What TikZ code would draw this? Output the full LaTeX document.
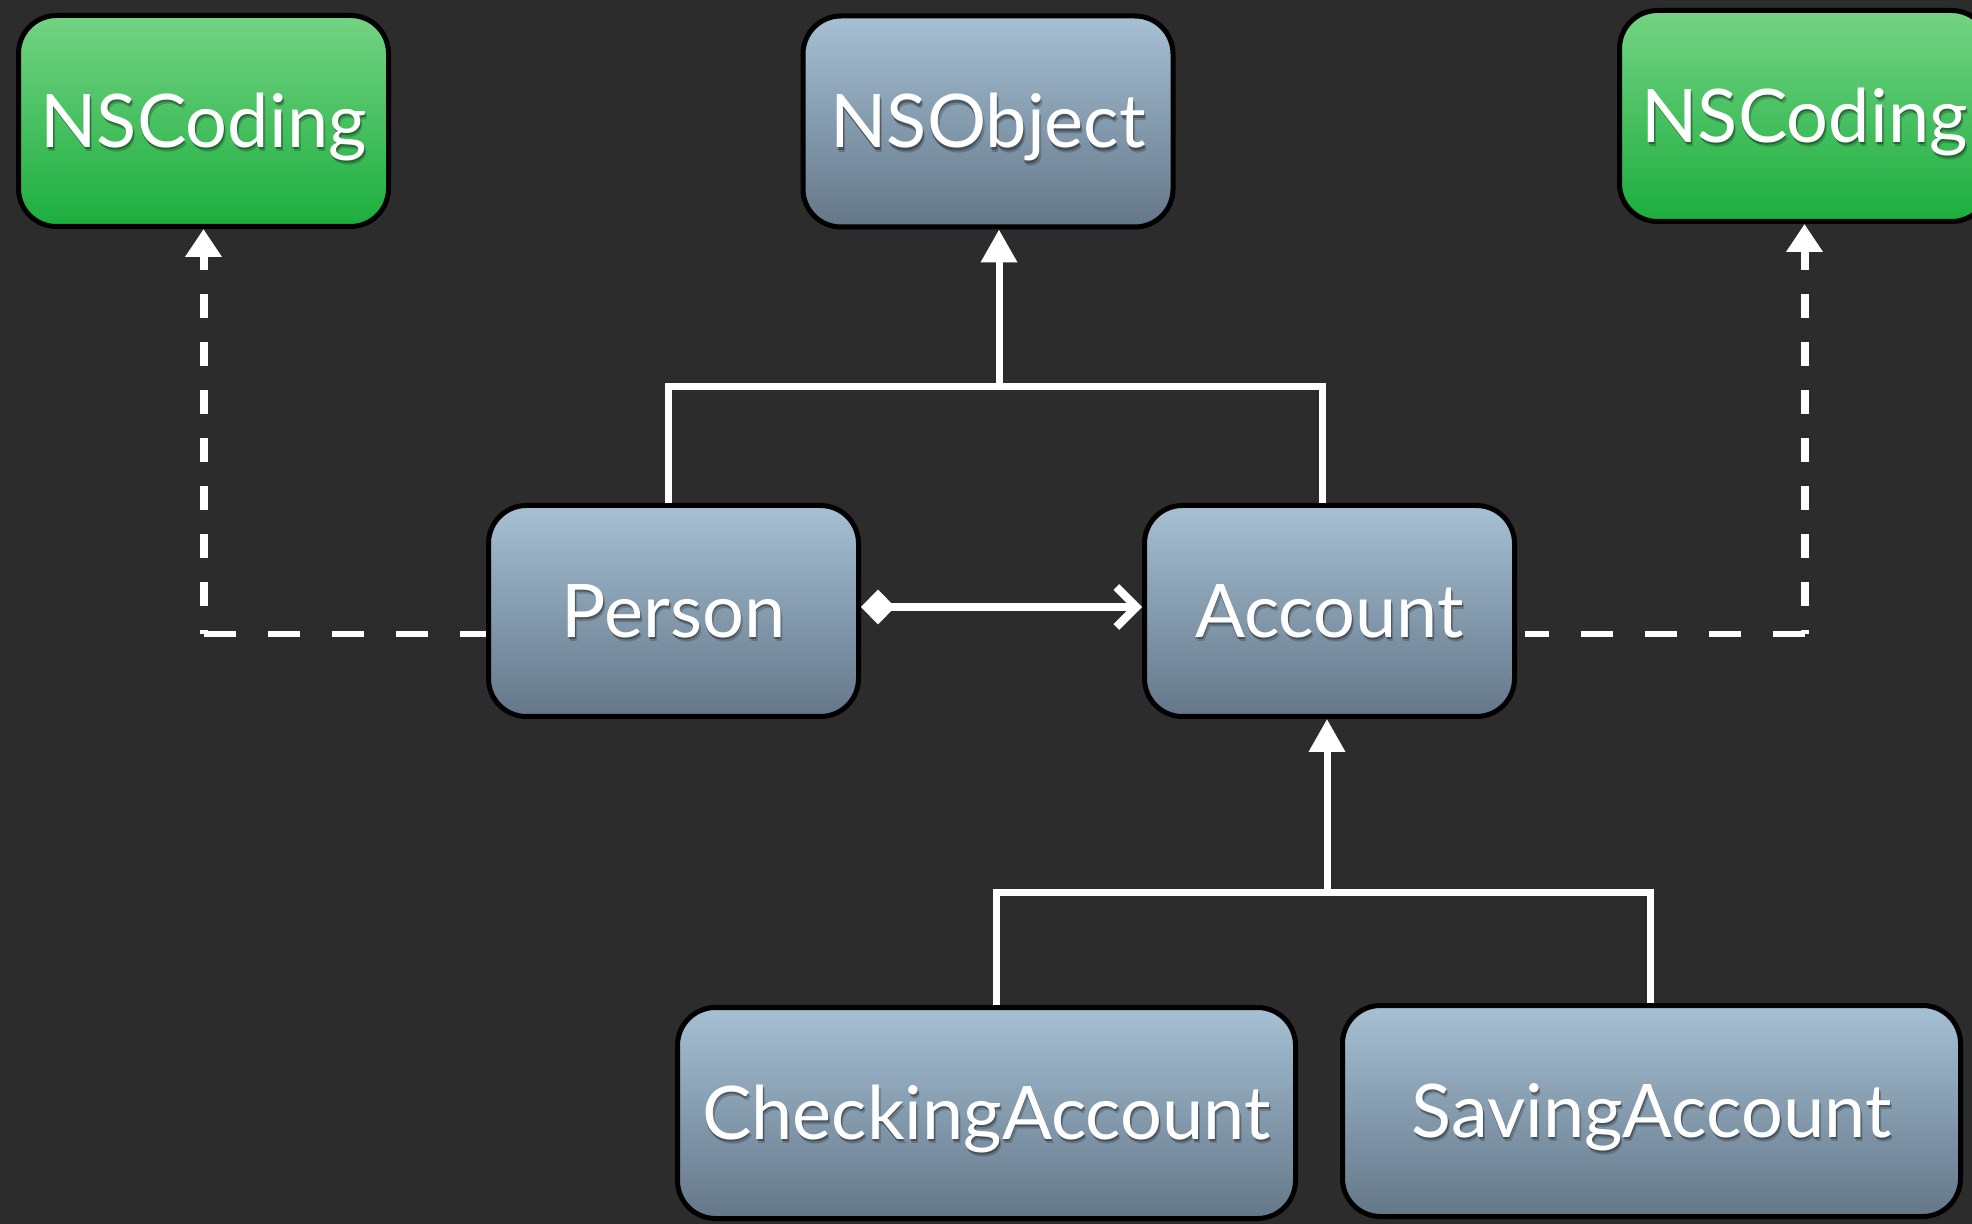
\documentclass[tikz,border=0pt]{standalone}
\usepackage{fontspec}
\setmainfont{Lato}
\usetikzlibrary{arrows.meta,calc}

\definecolor{bg}{HTML}{2C2C2C}
\definecolor{clstop}{RGB}{166,192,212}
\definecolor{clsbot}{RGB}{100,119,136}
\definecolor{prtop}{RGB}{116,211,132}
\definecolor{prbot}{RGB}{28,174,62}

\newcommand{\boxfont}{\fontsize{37}{40}\selectfont}

\begin{document}
\begin{tikzpicture}[x=0.5pt,y=-0.5pt,
  umlbox/.style={rectangle, rounded corners=19pt, draw=black, line width=2.5pt,
    minimum width=185pt, minimum height=105.5pt, inner sep=0pt,
    text=white, font=\boxfont, text height=26.5pt, text depth=0pt,
    path picture={
      \node[text=black, opacity=.2, font=\boxfont, inner sep=0pt,
        text height=26.5pt, text depth=0pt]
        at ([shift={(1pt,-2.2pt)}]path picture bounding box.center) {#1};
      \node[text=black, opacity=.3, font=\boxfont, inner sep=0pt,
        text height=26.5pt, text depth=0pt]
        at ([shift={(0.4pt,-1.2pt)}]path picture bounding box.center) {#1};},
    node contents={#1}},
  classbox/.style={umlbox=#1, top color=clstop, bottom color=clsbot},
  protobox/.style={umlbox=#1, top color=prtop, bottom color=prbot},
  wide/.style={minimum width=309pt},
  link/.style={draw=white, line width=3.5pt, line join=miter},
  gen/.style={link, -{Triangle[length=16.5pt,width=17.5pt]}},
  hdash/.style={draw=white, line width=3pt, dash pattern=on 16pt off 16pt},
  vdash/.style={draw=white, line width=4pt, dash pattern=on 12pt off 12pt,
    dash phase=10pt, -{Triangle[length=14pt,width=17.5pt]}},
]
\useasboundingbox (0,0) rectangle (1972,1224);
\fill[bg] (0,0) rectangle (1972,1224);

% classes and protocols
\node (ncl) at (203.5,121) [protobox=NSCoding];
\node (nsobj) at (988,121.5) [classbox=NSObject];
\node (ncr) at (1804.5,116) [protobox=NSCoding];
\node (person) at (673.5,611) [classbox=Person];
\node (account) at (1329.5,611) [classbox=Account];
\node (checking) at (986.5,1113) [classbox=CheckingAccount, wide];
\node (saving) at (1651.5,1111) [classbox=SavingAccount, wide];

% Person and Account inherit from NSObject
\coordinate (topjoin) at (999,386.5);
\draw[link] ([xshift=-2.75pt]person.north) |- (topjoin) -| ([xshift=-3.75pt]account.north);
\draw[gen] (topjoin) -- (topjoin |- nsobj.south);

% CheckingAccount and SavingAccount inherit from Account
\coordinate (botjoin) at (1327,892);
\draw[link] ([xshift=4.75pt]checking.north) |- (botjoin) -| ([xshift=-0.75pt]saving.north);
\draw[gen] (botjoin) -- (botjoin |- account.south);

% Person owns its Account
\draw[link, line width=4pt, {Diamond[length=17pt,width=17.5pt]}-{Straight Barb[length=10pt,width=20pt]}]
  ([yshift=2pt]person.east) -- ([yshift=2pt]account.west);

% both conform to NSCoding
\coordinate (lcorner) at ($(ncl.south |- person.west)+(0,23)$);
\draw[hdash] (lcorner) -- (lcorner -| person.west);
\draw[vdash] (lcorner) -- (ncl.south);

\coordinate (rcorner) at ($(ncr.south |- account.east)+(0,23)$);
\draw[hdash, shorten >=4pt] (rcorner) -- (rcorner -| account.east);
\draw[vdash] (rcorner) -- (ncr.south);
\end{tikzpicture}
\end{document}
